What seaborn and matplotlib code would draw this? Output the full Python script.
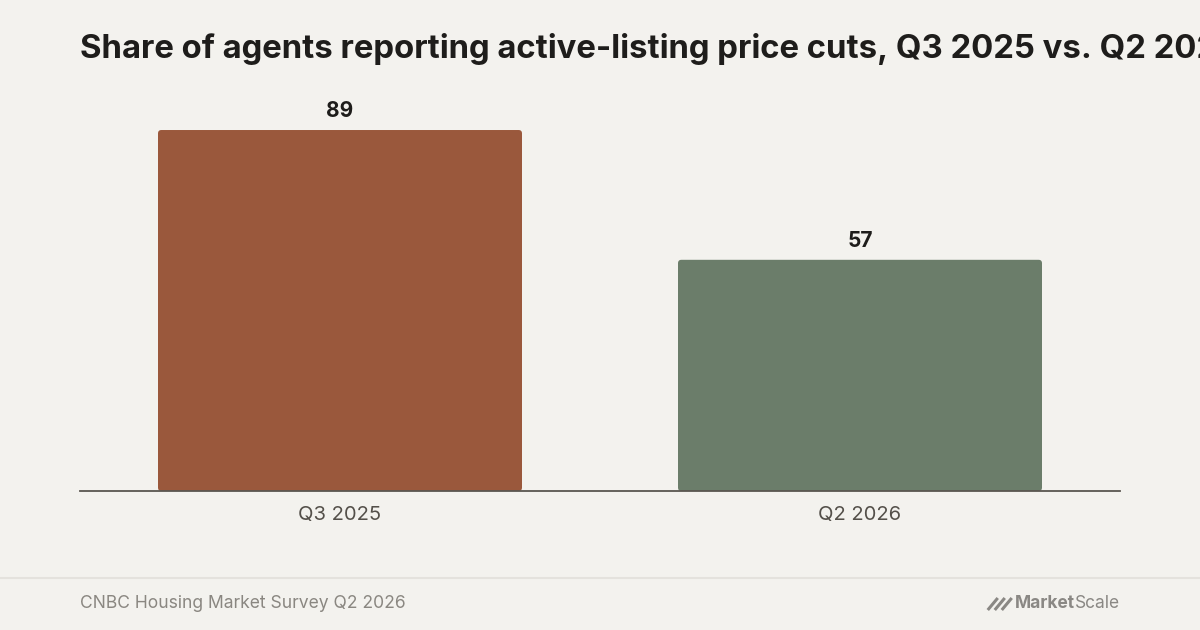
import matplotlib
matplotlib.use('Agg')
import matplotlib.pyplot as plt
import seaborn as sns
import pandas as pd
from matplotlib.patches import FancyBboxPatch
from matplotlib.lines import Line2D

# data
periods = ['Q3 2025', 'Q2 2026']
share_pct = [89, 57]
bar_colors = ['#9A583C', '#6B7D6A']

title = 'Share of agents reporting active-listing price cuts, Q3 2025 vs. Q2 2026'
source = 'CNBC Housing Market Survey Q2 2026'

bg = '#F3F2EE'

sns.set_theme(style='white')
plt.rcParams['font.family'] = ['Inter', 'DejaVu Sans']

df = pd.DataFrame({'period': periods, 'share': share_pct})

fig = plt.figure(figsize=(12, 6.3), dpi=100, facecolor=bg)
ax = fig.add_axes([80 / 1200, (630 - 491) / 630, 1040 / 1200, 405.6 / 630])
ax.set_facecolor(bg)

sns.barplot(data=df, x='period', y='share', hue='period', palette=bar_colors,
            width=0.7, legend=False, ax=ax, saturation=1)

ax.set_ylim(0, 100)
ax.set_xlim(-0.5, 1.5)

# rounded tops
for p, c in zip(list(ax.patches), bar_colors):
    x, y, w, h = p.get_x(), p.get_y(), p.get_width(), p.get_height()
    p.remove()
    ax.add_patch(FancyBboxPatch((x, y), w, h,
                                boxstyle='round,pad=0,rounding_size=0.0065',
                                mutation_aspect=130, facecolor=c,
                                edgecolor='none', zorder=2))

for i, v in enumerate(share_pct):
    ax.text(i, v + 2.2, f'{v}', ha='center', va='bottom', fontsize=15,
            fontweight='bold', color='#1E1D1B')

ax.set_xlabel('')
ax.set_ylabel('')
ax.set_yticks([])
ax.tick_params(axis='x', length=0, pad=11, labelsize=14.5, labelcolor='#54504A')
for s in ['top', 'right', 'left']:
    ax.spines[s].set_visible(False)
ax.spines['bottom'].set_color('#5A5650')
ax.spines['bottom'].set_linewidth(1.3)
ax.spines['bottom'].set_zorder(3)

fig.text(80 / 1200, 1 - 49 / 630, title, ha='left', va='center',
         fontsize=23.7, fontweight='bold', color='#1E1D1B')

# footer
fig.add_artist(Line2D([0, 1], [1 - 578 / 630] * 2, color='#E4E2DD', lw=1.5))
fig.text(80 / 1200, 1 - 603 / 630, source, ha='left', va='center',
         fontsize=12.6, color='#8A8781')

t2 = fig.text(1120 / 1200, 1 - 604 / 630, 'Scale', ha='right', va='center',
              fontsize=12.5, color='#8A8884')
fig.canvas.draw()
bb = t2.get_window_extent()
t1 = fig.text(bb.x0 / 1200, 1 - 604 / 630, 'Market', ha='right', va='center',
              fontsize=12.5, fontweight='bold', color='#8A8884')
fig.canvas.draw()
bb1 = t1.get_window_extent()
# slanted stripe icon
x_end = bb1.x0 - 3
for k in range(3):
    xr = x_end - k * 7
    fig.add_artist(Line2D([(xr - 10) / 1200, xr / 1200],
                          [1 - 610 / 630, 1 - 598 / 630],
                          color='#8A8884', lw=2.2, solid_capstyle='butt'))

fig.savefig('out.png', dpi=100, facecolor=bg)
